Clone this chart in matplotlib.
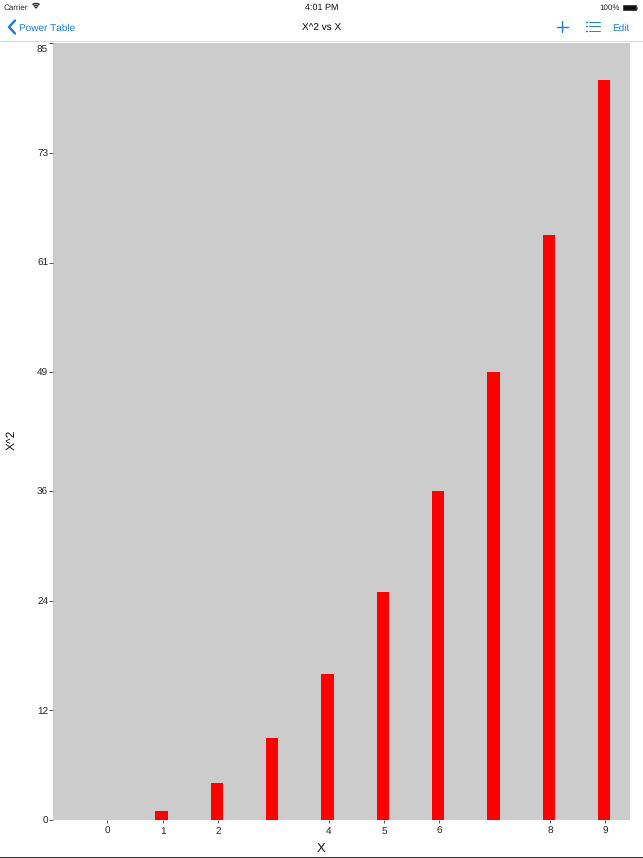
import matplotlib
matplotlib.use("Agg")
import matplotlib.pyplot as plt
from matplotlib.lines import Line2D
from matplotlib.patches import Rectangle, Arc
from matplotlib.transforms import ScaledTranslation

plt.rcParams['font.family'] = ['Liberation Sans', 'DejaVu Sans']
plt.rcParams['text.hinting'] = 'no_hinting'
plt.rcParams['text.hinting_factor'] = 1

x_vals = [0, 1, 2, 3, 4, 5, 6, 7, 8, 9]
y_vals = [0, 1, 4, 9, 16, 25, 36, 49, 64, 81]
x_ticks = [0, 1, 2, 4, 5, 6, 8, 9]
y_ticks = [0, 12, 24, 36, 49, 61, 73, 85]

W, H = 643, 858
blue = '#1a7ee0'

fig = plt.figure(figsize=(W / 100, H / 100), dpi=100, facecolor='white')

# plot area in pixels from the screenshot
left, right, top, bottom = 53, 630, 43.5, 820
ax = fig.add_axes([left / W, 1 - bottom / H, (right - left) / W, (bottom - top) / H])
ax.set_facecolor('#cccccc')
# bars sit about 1px left of their ticks in the original
bar_w = 0.226
ax.bar([v - bar_w / 2 - 0.02 for v in x_vals], y_vals, width=bar_w, align='edge', color='#ff0000')
ax.set_xlim(-0.981, 9.447)
ax.set_ylim(0, 85)
ax.set_xticks(x_ticks)
ax.set_yticks(y_ticks)
ax.tick_params(axis='both', width=0.7, color='#555555', labelsize=7.2, labelcolor='#222222')
ax.tick_params(axis='x', length=2.5, pad=2.5)
ax.tick_params(axis='y', length=3, pad=0.5)
for s in ax.spines.values():
    s.set_visible(False)

# top label hangs below its tick
top_label = ax.get_yticklabels()[-1]
top_label.set_transform(top_label.get_transform() + ScaledTranslation(0, -4 / 72, fig.dpi_scale_trans))


def px_text(x, y, s, **kw):
    fig.text(x / W, 1 - y / H, s, va='center', **kw)


def px_line(xs, ys, color=blue, lw=1.2):
    fig.add_artist(Line2D([x / W for x in xs], [1 - y / H for y in ys], color=color, lw=lw,
                          transform=fig.transFigure, solid_capstyle='round'))


px_text(321.5, 848.5, 'X', ha='center', fontsize=9, color='#111111')
px_text(12, 440, 'X^2', ha='center', rotation=90, fontsize=8.5, color='#111111')

# status bar
px_text(4, 8, 'Carrier', ha='left', fontsize=6, color='#222222')
px_text(322, 8, '4:01 PM', ha='center', fontsize=6.2, color='#111111')
px_text(620, 8, '100%', ha='right', fontsize=6, color='#222222')
for d in [4, 8, 12]:
    fig.add_artist(Arc((36 / W, 1 - 9.5 / H), d / W, d / H, theta1=45, theta2=135, lw=1,
                       color='#222222', transform=fig.transFigure))
fig.add_artist(Rectangle((623 / W, 1 - 10 / H), 13 / W, 5 / H, facecolor='#111111', edgecolor='#111111',
                         lw=0.4, transform=fig.transFigure))
px_line([637, 637], [6.5, 8.5], color='#777777', lw=0.8)

# navigation bar
px_line([15, 9, 15], [20.5, 27, 33.5], lw=1.7)
px_text(19, 28, 'Power Table', ha='left', fontsize=7.2, color=blue)
px_text(321.5, 28, 'X^2 vs X', ha='center', fontsize=7.4, color='#000000', fontweight='medium')
px_line([562, 562], [21, 32], lw=1)
px_line([556.5, 567.5], [26.5, 26.5], lw=1)
for y in [21.5, 26, 30.5]:
    px_line([586, 587], [y, y], lw=1)
    px_line([589, 600], [y, y], lw=0.7)
px_text(612, 28, 'Edit', ha='left', fontsize=7.4, color=blue)
px_line([0, W], [41, 41], color='#d8d8d8', lw=0.7)

# dark strip at the very bottom
px_line([0, W], [857.5, 857.5], color='#333333', lw=1.4)

fig.savefig('out.png', dpi=100)
